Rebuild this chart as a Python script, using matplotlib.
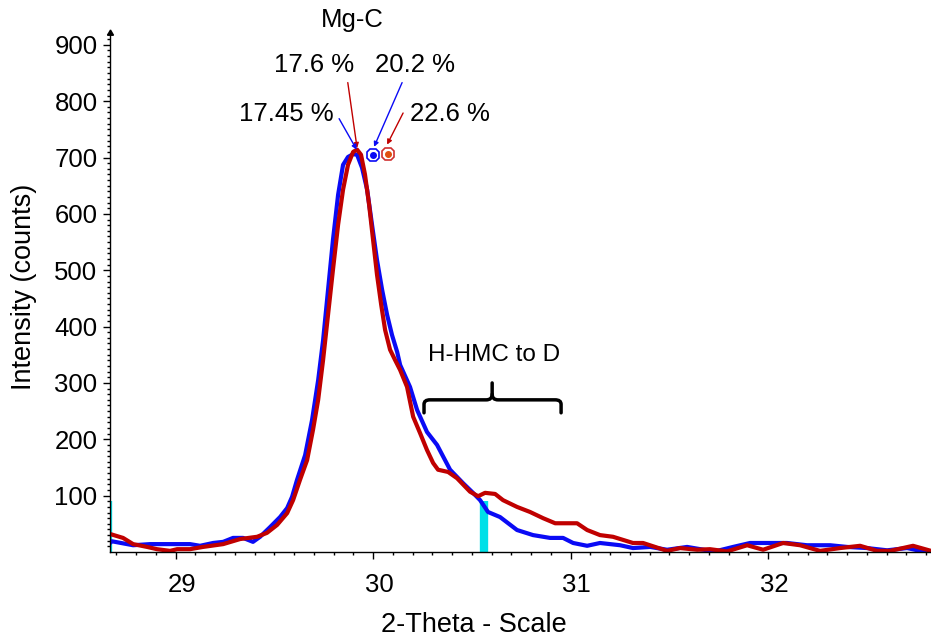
import matplotlib
matplotlib.use("Agg")
import matplotlib.pyplot as plt
import matplotlib.transforms as mtransforms
from matplotlib.path import Path
from matplotlib.patches import PathPatch

plt.rcParams['font.family'] = ['Liberation Sans', 'DejaVu Sans']

# ---- data ----
blue_x = [28.668, 28.678, 28.785, 28.871, 28.997, 29.073, 29.124, 29.190, 29.241, 29.291,
          29.342, 29.392, 29.428, 29.478, 29.529, 29.565, 29.590, 29.615, 29.656, 29.691,
          29.722, 29.747, 29.772, 29.797, 29.823, 29.848, 29.873, 29.899, 29.919, 29.944,
          29.970, 29.995, 30.020, 30.046, 30.071, 30.096, 30.122, 30.137, 30.187, 30.223,
          30.273, 30.324, 30.390, 30.456, 30.506, 30.542, 30.582, 30.643, 30.729, 30.810,
          30.896, 30.962, 31.013, 31.084, 31.149, 31.251, 31.316, 31.403, 31.489, 31.590,
          31.691, 31.742, 31.823, 31.909, 31.995, 32.096, 32.197, 32.314, 32.400, 32.501,
          32.603, 32.704, 32.770, 32.825]
blue_y = [16, 19, 12, 14, 14, 14, 11, 16, 18, 25,
          25, 18, 27, 44, 62, 78, 98, 128, 172, 234,
          305, 376, 465, 554, 634, 687, 701, 706, 705, 682,
          643, 580, 518, 465, 421, 385, 355, 332, 293, 252,
          213, 190, 146, 122, 105, 92, 71, 62, 39, 30,
          25, 25, 16, 11, 16, 12, 7, 9, 4, 9,
          3, 2, 9, 16, 16, 16, 12, 12, 9, 7,
          3, 7, 2, -2]

red_x = [28.668, 28.734, 28.785, 28.856, 28.906, 28.972, 29.008, 29.073, 29.139, 29.241,
         29.327, 29.413, 29.463, 29.514, 29.565, 29.595, 29.630, 29.666, 29.696, 29.722,
         29.747, 29.772, 29.797, 29.823, 29.848, 29.873, 29.899, 29.919, 29.939, 29.959,
         29.980, 30.000, 30.020, 30.041, 30.061, 30.086, 30.111, 30.137, 30.172, 30.203,
         30.238, 30.273, 30.304, 30.329, 30.380, 30.425, 30.491, 30.532, 30.567, 30.618,
         30.658, 30.729, 30.795, 30.861, 30.922, 30.962, 31.033, 31.084, 31.149, 31.215,
         31.316, 31.367, 31.489, 31.554, 31.641, 31.706, 31.792, 31.894, 31.975, 32.076,
         32.162, 32.263, 32.365, 32.466, 32.552, 32.618, 32.734, 32.805, 32.825]
red_y = [32, 25, 14, 9, 5, 2, 5, 5, 9, 14,
         23, 27, 34, 48, 69, 92, 128, 163, 217, 270,
         341, 421, 501, 581, 643, 687, 710, 714, 705, 670,
         616, 554, 492, 439, 394, 359, 341, 323, 293, 240,
         211, 181, 158, 146, 142, 131, 107, 99, 105, 103,
         92, 80, 71, 60, 51, 51, 51, 39, 30, 27,
         16, 16, 2, 7, 4, 5, 1, 12, 4, 16,
         12, 2, 7, 11, 2, 2, 11, 4, 2]

ref_x = [28.660, 30.560]
ref_h = [91, 90]

x_ticks = [29, 30, 31, 32]
y_ticks = [100, 200, 300, 400, 500, 600, 700, 800, 900]

# ---- figure ----
fig = plt.figure(figsize=(9.31, 6.41), dpi=100)
ax = fig.add_axes([110/931, 89/641, 821/931, 519/641])
ax.set_xlim(28.668, 32.825)
ax.set_ylim(0, 921)

ax.vlines(ref_x, 0, ref_h, colors='#00E0E8', linewidth=6, zorder=1)
ax.plot(blue_x, blue_y, color='#0A0AF5', lw=3.0, zorder=3, solid_joinstyle='round')
ax.plot(red_x, red_y, color='#C00000', lw=3.0, zorder=4, solid_joinstyle='round')

for s in ['top', 'right']:
    ax.spines[s].set_visible(False)
for s in ['left', 'bottom']:
    ax.spines[s].set_linewidth(1.0)
    ax.spines[s].set_zorder(5)

ax.set_xticks(x_ticks)
ax.set_xticks([v / 10 for v in range(287, 329)], minor=True)
ax.set_yticks(y_ticks)
ax.set_yticks(list(range(10, 921, 10)), minor=True)
ax.tick_params(axis='both', which='major', direction='out', length=5, width=1,
               labelsize=18.5)
ax.tick_params(axis='both', which='minor', direction='out', length=2.5, width=1)
ax.tick_params(axis='x', which='major', pad=10)
ax.tick_params(axis='y', which='major', pad=4)
off = mtransforms.ScaledTranslation(6/100, 0, fig.dpi_scale_trans)
for lab in ax.get_xticklabels():
    lab.set_transform(lab.get_transform() + off)

# y-axis arrow tip
ax.plot([0], [1], marker=(3, 0, 0), ms=5, color='black', transform=ax.transAxes,
        clip_on=False, zorder=6)

fig.text(24/931, 1 - 287/641, 'Intensity (counts)', rotation=90, fontsize=19.5,
         ha='center', va='center')
fig.text(474/931, 1 - 625/641, '2-Theta - Scale', fontsize=19.5, ha='center', va='center')

# annotations
fs = 18.5
ax.text(29.894, 944, 'Mg-C', fontsize=fs, ha='center', va='center', clip_on=False)
ax.text(29.701, 865, '17.6 %', fontsize=fs, ha='center', va='center')
ax.text(30.213, 865, '20.2 %', fontsize=fs, ha='center', va='center')
ax.text(29.559, 778, '17.45 %', fontsize=fs, ha='center', va='center')
ax.text(30.390, 778, '22.6 %', fontsize=fs, ha='center', va='center')

def arrow(x0, y0, x1, y1, c):
    ax.annotate('', xy=(x1, y1), xytext=(x0, y0),
                arrowprops=dict(arrowstyle='-|>', color=c, lw=1.0, mutation_scale=7,
                                shrinkA=0, shrinkB=0), zorder=6)

arrow(29.872, 833, 29.919, 717, '#C00000')
arrow(29.828, 769, 29.917, 714, '#0A0AF5')
arrow(30.147, 833, 30.005, 719, '#0A0AF5')
arrow(30.152, 779, 30.071, 723, '#C00000')

ax.plot([30.0], [705], marker='8', ms=10, mfc='white', mec='#0A0AF5', mew=1.2, zorder=7)
ax.plot([30.0], [705], marker='o', ms=4, color='#0A0AF5', zorder=8)
ax.plot([30.076], [707], marker='8', ms=10, mfc='white', mec='#D03030', mew=1.2, zorder=7)
ax.plot([30.076], [707], marker='o', ms=4, color='#E05010', zorder=8)

# curly bracket
xl, xc, xr = 30.258, 30.603, 30.952
yb, ym, yt = 247, 270, 300
r = 0.03
verts = [(xl, yb), (xl, ym - 8), (xl, ym), (xl + r, ym),
         (xc - r, ym), (xc, ym), (xc, ym + 10), (xc, yt)]
codes = [Path.MOVETO, Path.LINETO, Path.CURVE3, Path.CURVE3,
         Path.LINETO, Path.CURVE3, Path.CURVE3, Path.LINETO]
ax.add_patch(PathPatch(Path(verts, codes), fill=False, lw=2.5, color='black',
                       capstyle='round', zorder=6))
verts2 = [(xr, yb), (xr, ym - 8), (xr, ym), (xr - r, ym),
          (xc + r, ym), (xc, ym), (xc, ym + 10)]
codes2 = [Path.MOVETO, Path.LINETO, Path.CURVE3, Path.CURVE3,
          Path.LINETO, Path.CURVE3, Path.CURVE3]
ax.add_patch(PathPatch(Path(verts2, codes2), fill=False, lw=2.5, color='black',
                       capstyle='round', zorder=6))
ax.text(30.612, 350, 'H-HMC to D', fontsize=17.5, ha='center', va='center')

fig.savefig('out.png', dpi=100)
